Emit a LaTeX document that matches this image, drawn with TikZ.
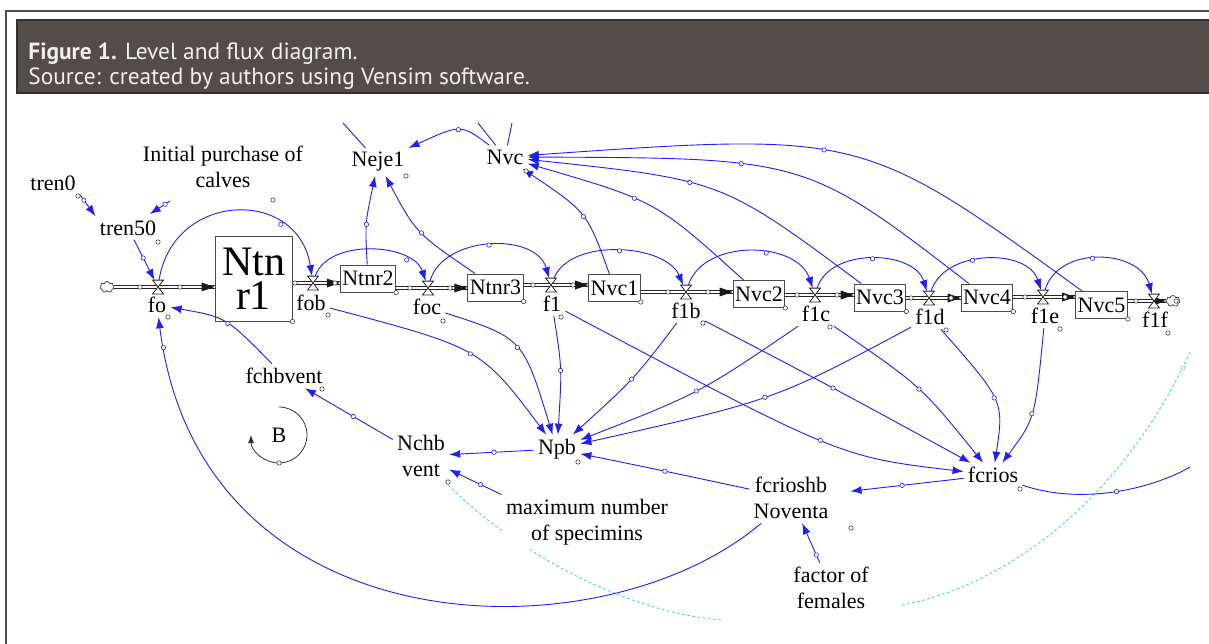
\documentclass[tikz,border=0pt]{standalone}
\usepackage{fontspec}
\setmainfont{Liberation Serif}
\newfontfamily\capfont{PT Sans}
\usetikzlibrary{arrows.meta, positioning, shapes.symbols, backgrounds, decorations.markings}
\definecolor{capbg}{RGB}{84,76,73}
\definecolor{capline}{RGB}{52,46,44}
\definecolor{linkblue}{RGB}{30,30,255}
\definecolor{delaycyan}{RGB}{70,205,255}
\newcommand\varfont{\fontsize{11}{13}\selectfont}
\newcommand\stockfont{\fontsize{21}{17}\selectfont}
\tikzstyle{stock}=[draw=black!70, fill=white, line width=0.5pt, inner sep=1pt, minimum height=13.5pt, font=\varfont]
\tikzstyle{var}=[inner sep=2pt, align=center, font=\varfont]
\tikzstyle{vlv}=[inner sep=0pt, minimum width=5pt, minimum height=6.5pt]
\tikzstyle{vlvshape}=[draw=black!85, fill=white, line width=0.4pt]
\tikzstyle{cld}=[cloud, draw=black!70, fill=white, cloud puffs=7, aspect=1.3, minimum width=7pt, minimum height=5.5pt, inner sep=0pt, line width=0.4pt]
\tikzstyle{pipe}=[draw=black!85, double=white, double distance=1.4pt, line width=0.45pt]
\tikzstyle{lnk}=[draw=linkblue, line width=0.45pt, -{Latex[length=5.5pt,width=4pt]}]
\tikzstyle{dly}=[draw=delaycyan, line width=0.45pt, dash pattern=on 1.4pt off 1.2pt]
\tikzstyle{tag}=[draw=black!75, fill=white, line width=0.3pt]
\tikzstyle{captxt}=[text=white!94!black, font=\capfont\fontsize{11.7}{14}\selectfont, inner sep=0pt]
\tikzset{hm/.style={postaction={decorate}, decoration={markings, mark=at position #1 with {\draw[linkblue, fill=white, line width=0.3pt] (0,0) circle (1.1pt);}}}}

\begin{document}
\begin{tikzpicture}[x=0.5pt, y=-0.5pt]
\useasboundingbox (0,0) rectangle (1209,643);

% frame and caption
\draw[capline!85, line width=1.3pt] (6,660) -- (6,11) -- (1220,11);
\filldraw[fill=capbg, draw=capline, line width=0.8pt] (17,20) rectangle (1220,93);
\node[captxt, anchor=base west] (cap1) at (28,59) {\textbf{Figure 1.} Level and flux diagram.};
\node[captxt, anchor=base west] (cap2) at (28,84) {Source: created by authors using Vensim software.};

% stocks
\node[stock, font=\stockfont, align=center, inner sep=0pt, minimum width=38.5pt, minimum height=42.5pt] (ntnr1) at (253.5,278.5) {Ntn\\r1};
\node[stock] (ntnr2) at (368,278.5) {Ntnr2};
\node[stock] (ntnr3) at (495.5,287.5) {Ntnr3};
\node[stock] (nvc1) at (614.5,288) {Nvc1};
\node[stock] (nvc2) at (759,294) {Nvc2};
\node[stock] (nvc3) at (880,297.5) {Nvc3};
\node[stock] (nvc4) at (987,297.5) {Nvc4};
\node[stock] (nvc5) at (1101.5,305) {Nvc5};
\node[cld] (src) at (107,287) {};
\node[cld] (snk) at (1173,301) {};

% valves
\foreach \v/\x/\y in {fo/158/287, fob/313/283, foc/428/288, f1/551/285, f1b/686/292, f1c/815/295, f1d/929/298, f1e/1043/297, f1f/1154/301}
  \node[vlv] (v_\v) at (\x,\y) {};

% flow names
\node[var] (fo) at (157,305) {fo};
\node[var] (fob) at (311,303) {fob};
\node[var] (foc) at (427,307) {foc};
\node[var] (f1) at (552,304) {f1};
\node[var] (f1b) at (686,311) {f1b};
\node[var] (f1c) at (816,314) {f1c};
\node[var] (f1d) at (930,317) {f1d};
\node[var] (f1e) at (1045,316) {f1e};
\node[var] (f1f) at (1155,320) {f1f};

% auxiliaries
\node[var] (tren0) at (53,183) {tren0};
\node[var] (tren50) at (128,228) {tren50};
\node[var] (ipc) at (223,167) {Initial purchase of\\calves};
\node[var] (neje1) at (378,162) {Neje1};
\node[var] (nvc) at (505,157) {Nvc};
\node[var] (fchbvent) at (284,376) {fchbvent};
\node[var] (nchbvent) at (421,456) {Nchb\\vent};
\node[var] (npb) at (557,449) {Npb};
\node[var] (fcrios) at (993,475) {fcrios};
\node[var] (fcrioshb) at (791,498) {fcrioshb\\Noventa};
\node[var, fill=white] (maxspec) at (587,522) {maximum number\\of specimins};
\node[var] (ffem) at (831,588) {factor of\\females};
\node[var] (loopb) at (279,435) {B};

% pipes
\begin{scope}[on background layer]
\foreach \s/\v/\t in {src/fo/ntnr1, ntnr1/fob/ntnr2, ntnr2/foc/ntnr3, ntnr3/f1/nvc1, nvc1/f1b/nvc2, nvc2/f1c/nvc3, nvc3/f1d/nvc4, nvc4/f1e/nvc5, nvc5/f1f/snk}{
  \draw[pipe] (\s.east |- v_\v) -- (\t.west |- v_\v);
  \fill[black!90] (\t.west |- v_\v) -- ++(-13,-4.5) -- ++(0,9) -- cycle;
}
% delays
\coordinate (dA) at (722,620);
\coordinate (dB1) at (1190,352);
\coordinate (dB2) at (902,605);
\draw[dly] (nchbvent) .. controls (505,545) and (620,612) .. (dA);
\draw[dly] (dB1) .. controls (1125,495) and (1010,585) .. (dB2);
\end{scope}
\draw[delaycyan, fill=white, line width=0.3pt] (1183,368) circle (1.1pt);

\foreach \v in {fo,fob,foc,f1,f1b,f1c,f1d,f1e,f1f}{
  \draw[vlvshape] (v_\v.south west) -- (v_\v.south east) -- (v_\v.north west) -- (v_\v.north east) -- cycle;
  \draw[tag] ([xshift=-9pt]v_\v.center) circle (1.1pt);
  \draw[tag] ([xshift=11pt]v_\v.center) circle (1.1pt);
}

% valve to valve arcs
\foreach \a/\b/\d/\h/\p in {fo/fob/15/96/0.72, fob/foc/15/45/0.78, foc/f1/15/53/0.5, f1/f1b/20/48/0.5, f1b/f1c/18/54/0.6, f1c/f1d/15/48/0.5, f1d/f1e/15/49/0.4, f1e/f1f/15/52/0.45}
  \draw[lnk, hm=\p] (v_\a) .. controls +(\d,-\h) and +(-\d,-\h) .. (v_\b);

% links
\draw[lnk, hm=0.25] (tren0.south east) -- (tren50.north west);
\draw[lnk, hm=0.5, shorten <=8pt, shorten >=2pt] (ipc) -- (tren50);
\draw[lnk, hm=0.45] (tren50) -- (v_fo);
\draw[lnk, hm=0.5] (fchbvent) .. controls (226,317) .. (fo);
\draw[lnk, hm=0.96] (fcrioshb) .. controls (600,660) and (200,650) .. (fo);
\draw[lnk, hm=0.45] (nchbvent) -- (fchbvent);
\draw[lnk, hm=0.47] (npb) -- (nchbvent);
\draw[lnk, hm=0.4] (maxspec.north west) -- (nchbvent);
\draw[lnk, hm=0.47, shorten >=9pt] (fcrios) -- (fcrioshb);
\draw[lnk, hm=0.2] (ffem) -- (fcrioshb);
\draw[lnk, hm=0.5] (fcrioshb) .. controls (655,469) .. (npb);

\draw[lnk, hm=0.57] (fob) .. controls (481,348) .. (npb);
\draw[lnk, hm=0.46] (foc) .. controls (523,338) .. (npb);
\draw[lnk, hm=0.46] (f1) .. controls (562,368) .. (npb);
\draw[lnk, hm=0.47] (f1b) .. controls (634,379) .. (npb);
\draw[lnk, hm=0.49] (f1c) .. controls (700,393) .. (npb);
\draw[lnk, hm=0.46] (f1d) .. controls (775,400) .. (npb);

\draw[lnk, hm=0.66] (f1) .. controls (840,457) .. (fcrios);
\draw[lnk, hm=0.48] (f1b) .. controls (830,386) .. (fcrios);
\draw[lnk, hm=0.52] (f1c) .. controls (921,386) .. (fcrios);
\draw[lnk, hm=0.57] (f1d) .. controls (1004,401) .. (fcrios);
\draw[lnk, hm=0.6] (f1e) .. controls (1035,419) .. (fcrios);
\coordinate (offR) at (1190,467);
\draw[lnk, -, hm=0.55] (fcrios) .. controls (1080,505) and (1150,490) .. (offR);

\draw[lnk, hm=0.4] (nvc) .. controls (461,124) .. (neje1);
\draw[lnk, hm=0.45] (ntnr2) .. controls (365,224) .. (neje1);
\draw[lnk, hm=0.5] (ntnr3) .. controls (416,233) .. (neje1);
\draw[lnk, hm=0.45] (nvc1) .. controls (587,212) .. (nvc);
\draw[lnk, hm=0.55] (nvc2) .. controls (656,201) .. (nvc);
\draw[lnk, hm=0.55] (nvc3) .. controls (722,180) .. (nvc);
\draw[lnk, hm=0.55] (nvc4) .. controls (806,158) .. (nvc);
\draw[lnk, hm=0.5] (nvc5) .. controls (862,132) .. (nvc);
\coordinate (top1) at (343,123);
\coordinate (top2) at (478,123);
\coordinate (top3) at (512,123);
\draw[lnk, -] (top1) -- (neje1);
\draw[lnk, -] (top2) -- (nvc);
\draw[lnk, -] (top3) -- (nvc);

% loop marker
\draw[black!80, line width=0.4pt, -{Latex[length=4pt,width=3pt]}] (279,407) arc[start angle=-90, end angle=180, radius=28];
\draw[tag] (279,463) circle (1.1pt);

% name handles
\foreach \x/\y in {78/196, 158/242, 273/200, 406/176, 526/171, 168/317, 328/315, 443/321, 561/317, 703/323, 830/327, 946/330, 1060/329, 1168/333, 322/389, 578/462, 1020/489, 851/528, 448/482}
  \draw[tag] (\x,\y) circle (1.1pt);
\foreach \n in {ntnr1,ntnr2,ntnr3,nvc1,nvc2,nvc3,nvc4,nvc5}
  \draw[tag] (\n.south east) circle (1.1pt);
\end{tikzpicture}
\end{document}
